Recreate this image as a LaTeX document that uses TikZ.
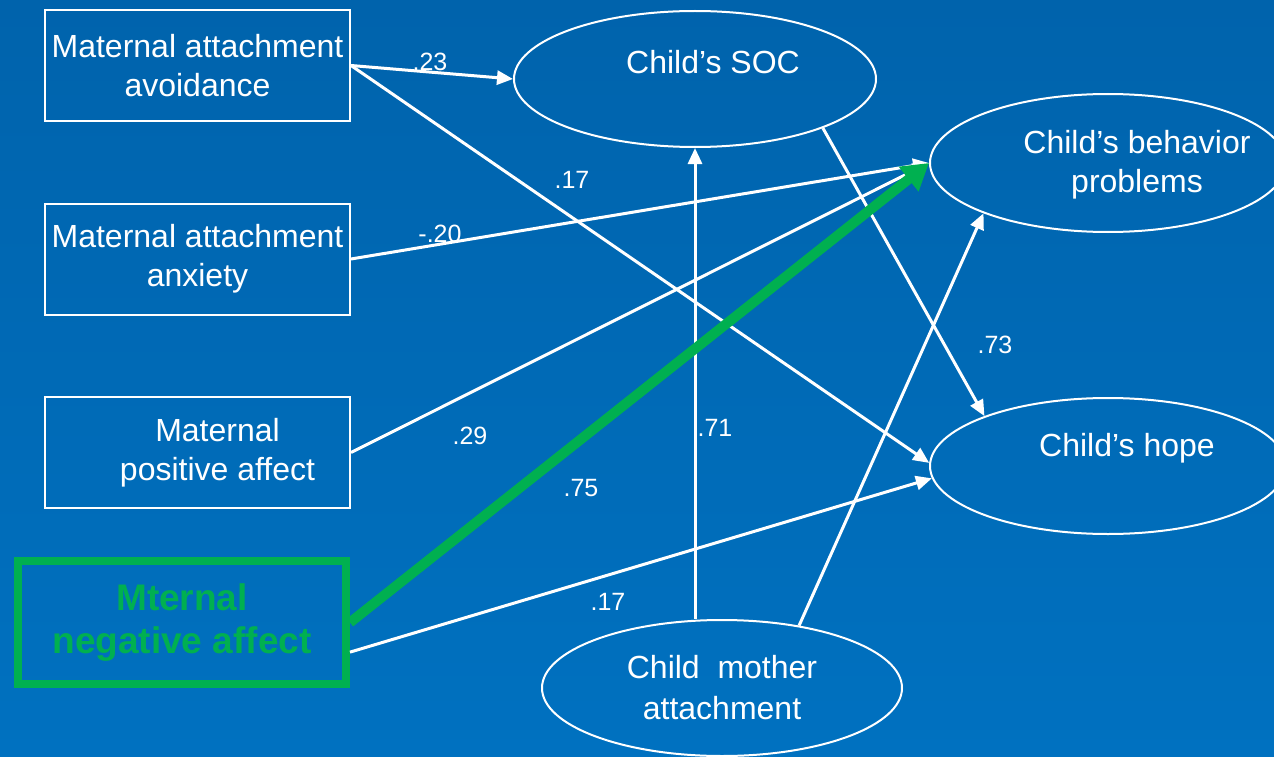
\documentclass[tikz,border=0pt]{standalone}
\usepackage{fontspec}
\setmainfont{Liberation Sans}
\usetikzlibrary{arrows.meta,shapes.geometric}
\usepackage{xcolor}
\definecolor{slidetop}{RGB}{0,99,172}
\definecolor{slidebottom}{RGB}{0,113,192}
\definecolor{pathgreen}{RGB}{0,176,80}

\begin{document}
\begin{tikzpicture}[x=1pt,y=-1pt]
 \tikzstyle{var}=[rectangle, draw=white, line width=2pt, minimum width=305pt,
                  minimum height=111pt, inner sep=0pt, text=white, align=center,
                  font=\fontsize{32}{39}\selectfont]
 \tikzstyle{outcome}=[ellipse, draw=white, line width=2pt, inner sep=0pt,
                  text=white, align=center, font=\fontsize{32}{41}\selectfont]
 \tikzstyle{lbltext}=[text=white, align=center, inner sep=0pt,
                  font=\fontsize{32}{39}\selectfont]
 \tikzstyle{effect}=[draw=white, line width=3pt, -{Triangle[length=16pt,width=14pt]}]
 \tikzstyle{keypath}=[draw=pathgreen, line width=10pt, -{Triangle[length=26pt,width=30pt]}]
 \tikzstyle{coef}=[text=white, inner sep=0pt, font=\fontsize{25}{30}\selectfont]

\useasboundingbox (0,0) rectangle (1274,757);
\clip (0,0) rectangle (1274,757);
\fill[top color=slidetop, bottom color=slidebottom] (0,0) rectangle (1274,757);

% predictors
\node[var] (avoid) at (197.5,65.5) {Maternal attachment\\avoidance};
\node[var] (anx) at (197.5,259) {Maternal attachment\\anxiety};
\node[var, label={[lbltext, xshift=20pt]center:Maternal\\positive affect}] (posaff) at (197.5,452.5) {};
\node[var, draw=pathgreen, line width=8pt, minimum width=328pt, minimum height=123pt,
      text=pathgreen, font=\fontsize{37}{43}\selectfont\bfseries] (negaff) at (182,622.5) {Mternal\\negative affect};

% mediators and outcomes
\node[outcome, minimum width=362pt, minimum height=136pt,
      label={[lbltext, shift={(18pt,17pt)}]center:Child's SOC}] (soc) at (695,79) {};
\node[outcome, minimum width=356pt, minimum height=138pt,
      label={[lbltext, shift={(29pt,-2pt)}]center:Child's behavior\\problems}] (behav) at (1108,163) {};
\node[outcome, minimum width=356pt, minimum height=136pt,
      label={[lbltext, shift={(19pt,18pt)}]center:Child's hope}] (hope) at (1108,466) {};
\node[outcome, minimum width=360pt, minimum height=136pt] (cm) at (722,688) {Child~ mother\\attachment};

% paths
\draw[effect] (avoid.east) -- (soc.west);
\draw[effect] (avoid.east) -- (hope.179);
\draw[effect] (anx.east) -- (behav.west);
\draw[effect] (posaff.east) -- (behav.west);
\draw[effect] (negaff.-10) -- (hope.184);
\draw[effect] (soc.-21) -- (hope.158);
\draw[effect] (soc.south |- cm.north) -- (soc.south);
\draw[effect] (cm.39) -- (behav.202);
\draw[keypath] (negaff.east) -- (behav.west);

% coefficients
\node[coef] (c23) at (430,62) {.23};
\node[coef] (c17a) at (572,180) {.17};
\node[coef] (c20) at (440,234) {-.20};
\node[coef] (c29) at (470,436) {.29};
\node[coef] (c71) at (715,428) {.71};
\node[coef] (c75) at (581,488) {.75};
\node[coef] (c17b) at (608,602) {.17};
\node[coef] (c73) at (995,345) {.73};

\end{tikzpicture}
\end{document}
